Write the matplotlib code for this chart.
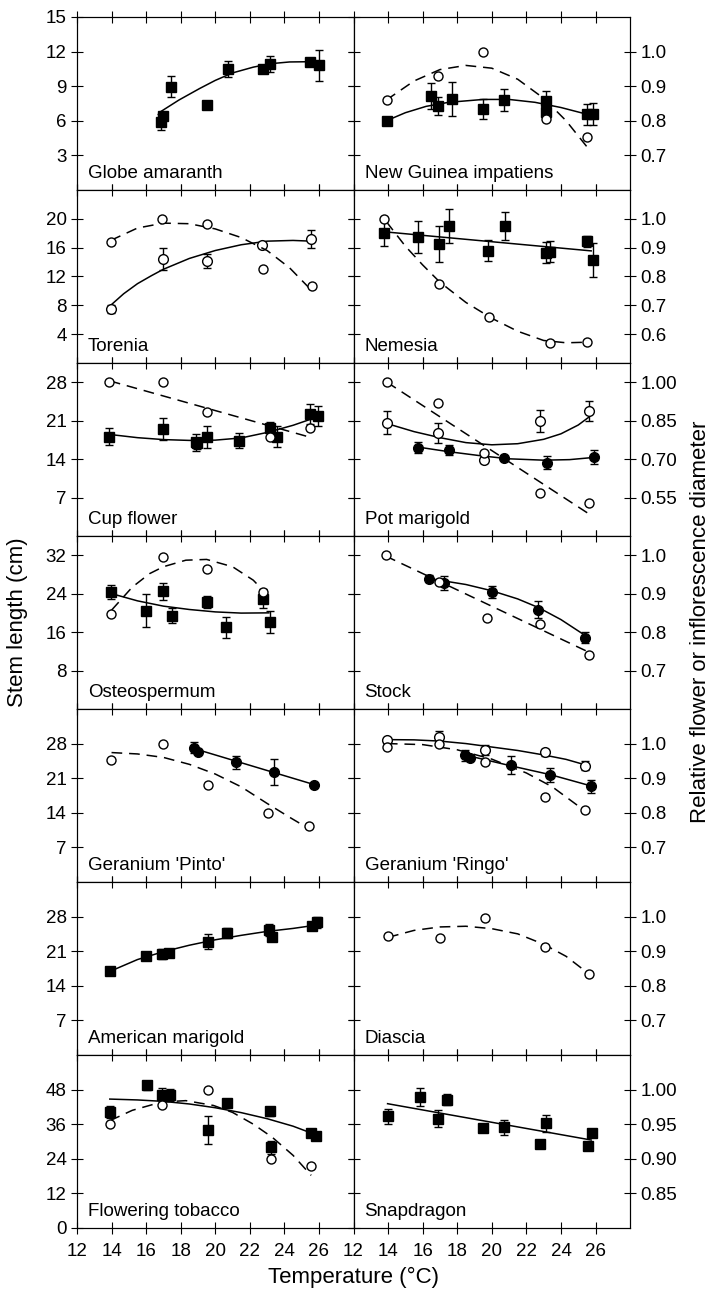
#!/usr/bin/env python3
# -*- coding: utf-8 -*-
import matplotlib
matplotlib.use("Agg")
import matplotlib.pyplot as plt

plt.rcParams["font.family"] = ["Liberation Sans", "DejaVu Sans"]

temp_ticks = [12, 14, 16, 18, 20, 22, 24, 26]

# ---- row 1 ----
globe_x = [16.84, 16.97, 17.45, 19.5, 20.75, 22.75, 23.18, 25.5, 26.03]
globe_y = [5.93, 6.45, 8.97, 7.38, 10.5, 10.48, 10.94, 11.1, 10.8]
globe_err = [0.7, 0.3, 0.9, 0.2, 0.7, 0.2, 0.7, 0.3, 1.35]
globe_fit_x = [16.85, 17.9, 19.1, 20.0, 21.0, 22.2, 23.2, 24.3, 25.4, 26.0]
globe_fit_y = [6.8, 7.8, 8.8, 9.5, 10.15, 10.65, 10.95, 11.1, 11.12, 11.08]

ngi_x = [13.93, 16.49, 16.89, 17.68, 19.5, 20.69, 23.14, 23.16, 25.49, 25.85]
ngi_y = [5.99, 8.16, 7.29, 7.9, 7.03, 7.81, 7.75, 6.74, 6.57, 6.57]
ngi_err = [0.3, 1.1, 0.8, 1.45, 0.85, 0.95, 0.85, 0.3, 0.9, 0.95]
ngi_fit_x = [13.9, 15.0, 16.2, 17.5, 19.5, 21.0, 22.5, 24.0, 25.8]
ngi_fit_y = [6.0, 6.7, 7.25, 7.6, 7.85, 7.85, 7.6, 7.15, 6.45]
ngi_dia_x = [13.93, 16.89, 19.5, 23.16, 25.49]
ngi_dia_y = [0.859, 0.93, 1.0, 0.806, 0.752]
ngi_dfit_x = [13.9, 15.5, 17.0, 18.5, 20.0, 21.5, 23.0, 24.3, 25.5]
ngi_dfit_y = [0.86, 0.915, 0.948, 0.96, 0.952, 0.92, 0.865, 0.8, 0.725]

# ---- row 2 ----
tor_x = [13.95, 16.97, 19.5, 22.73, 25.55]
tor_y = [7.47, 14.42, 14.15, 16.3, 17.2]
tor_err = [0.6, 1.5, 1.0, 0.3, 1.25]
tor_fit_x = [13.95, 14.7, 15.5, 16.3, 17.0, 18.5, 20.0, 21.5, 23.0, 24.5, 25.55]
tor_fit_y = [8.0, 9.6, 11.0, 12.1, 13.0, 14.5, 15.6, 16.4, 16.9, 17.0, 16.9]
tor_dia_x = [13.95, 16.93, 19.5, 22.75, 25.58]
tor_dia_y = [0.919, 1.0, 0.983, 0.825, 0.767]
tor_dfit_x = [13.95, 15.5, 17.0, 18.5, 20.0, 21.5, 23.0, 24.3, 25.6]
tor_dfit_y = [0.925, 0.968, 0.985, 0.983, 0.965, 0.935, 0.89, 0.83, 0.75]

nem_x = [13.77, 15.72, 16.93, 17.51, 19.78, 20.79, 23.14, 23.39, 25.51, 25.83]
nem_y = [17.97, 17.5, 16.45, 18.99, 15.58, 19.0, 15.3, 15.44, 16.87, 14.29]
nem_err = [1.8, 2.2, 2.5, 2.4, 1.45, 2.0, 1.5, 1.5, 0.8, 2.3]
nem_fit_x = [13.77, 25.75]
nem_fit_y = [18.2, 15.55]
nem_dia_x = [13.77, 16.93, 19.82, 23.39, 25.49]
nem_dia_y = [1.0, 0.773, 0.661, 0.569, 0.572]
nem_dfit_x = [13.9, 15.0, 16.0, 17.0, 18.5, 20.0, 21.5, 23.0, 24.3, 25.5]
nem_dfit_y = [0.99, 0.905, 0.84, 0.78, 0.71, 0.655, 0.61, 0.578, 0.57, 0.572]

# ---- row 3 ----
cup_x = [13.85, 16.97, 18.86, 18.94, 19.5, 21.36, 23.14, 23.56, 25.5, 25.93]
cup_y = [18.08, 19.42, 17.04, 16.86, 17.96, 17.35, 19.6, 18.08, 22.16, 21.85]
cup_err = [1.6, 2.0, 1.5, 1.0, 2.0, 1.4, 1.2, 1.9, 1.8, 1.9]
cup_fit_x = [13.85, 15.5, 17.0, 18.5, 20.0, 21.5, 23.0, 24.5, 25.93]
cup_fit_y = [18.5, 17.9, 17.55, 17.4, 17.45, 17.85, 18.85, 20.15, 21.7]
cup_dia_x = [13.85, 16.97, 19.5, 23.14, 25.5]
cup_dia_y = [1.0, 1.0, 0.883, 0.785, 0.823]
cup_dfit_x = [13.9, 25.5]
cup_dfit_y = [1.005, 0.785]

potA_x = [13.93, 16.86, 19.53, 22.77, 25.6]
potA_y = [20.64, 18.81, 13.8, 21.0, 22.77]
potA_err = [2.1, 1.8, 0.5, 2.0, 1.8]
potA_fit_x = [13.9, 15.5, 17.0, 18.5, 20.0, 21.5, 23.0, 24.0, 25.0, 25.6]
potA_fit_y = [20.5, 19.0, 17.9, 17.0, 16.6, 16.8, 17.6, 18.6, 20.2, 21.6]
potB_x = [15.72, 17.55, 20.69, 23.18, 25.93]
potB_y = [16.07, 15.64, 14.12, 13.33, 14.43]
potB_err = [1.0, 0.9, 0.3, 1.2, 1.3]
potB_fit_x = [15.7, 17.5, 19.5, 21.0, 23.0, 24.5, 25.9]
potB_fit_y = [16.2, 15.35, 14.55, 14.05, 13.8, 13.9, 14.3]
pot_dia_x = [13.93, 16.86, 19.53, 22.77, 25.6]
pot_dia_y = [1.0, 0.917, 0.722, 0.568, 0.529]
pot_dfit_x = [13.93, 25.6]
pot_dfit_y = [1.0, 0.487]

# ---- row 4 ----
ost_x = [13.98, 16.0, 16.97, 17.47, 19.51, 20.61, 22.75, 23.14]
ost_y = [24.38, 20.46, 24.45, 19.41, 22.28, 16.97, 22.98, 18.15]
ost_err = [1.5, 3.5, 1.7, 1.5, 1.3, 2.1, 1.9, 2.3]
ost_fit_x = [14.0, 15.5, 17.0, 18.5, 20.0, 21.5, 23.1]
ost_fit_y = [24.0, 22.5, 21.4, 20.7, 20.2, 19.95, 20.0]
ost_dia_x = [13.98, 16.97, 19.51, 22.75]
ost_dia_y = [0.848, 0.994, 0.965, 0.903]
ost_dfit_x = [14.0, 15.2, 16.2, 17.0, 18.3, 19.5, 21.0, 22.2, 22.8]
ost_dfit_y = [0.857, 0.917, 0.952, 0.97, 0.987, 0.989, 0.97, 0.935, 0.907]

stock_x = [16.39, 17.26, 20.0, 22.67, 25.37]
stock_y = [27.1, 26.27, 24.3, 20.67, 14.87]
stock_err = [0.7, 1.5, 1.3, 1.8, 1.1]
stock_fit_x = [16.4, 17.3, 18.5, 20.0, 21.5, 22.7, 24.0, 25.4]
stock_fit_y = [27.0, 26.6, 25.9, 24.6, 22.9, 21.1, 18.6, 15.3]
stock_dia_x = [13.85, 16.93, 19.75, 22.79, 25.6]
stock_dia_y = [1.0, 0.931, 0.837, 0.82, 0.74]
stock_dfit_x = [13.85, 25.6]
stock_dfit_y = [0.998, 0.748]

# ---- row 5 ----
pinto_x = [18.76, 18.99, 21.21, 23.41, 25.72]
pinto_y = [27.2, 26.33, 24.2, 22.2, 19.67]
pinto_err = [1.2, 0.5, 1.3, 2.6, 0.4]
pinto_fit_x = [18.76, 25.72]
pinto_fit_y = [27.0, 19.7]
pinto_dia_x = [13.98, 16.97, 19.59, 23.06, 25.45]
pinto_dia_y = [0.952, 1.0, 0.879, 0.8, 0.762]
pinto_dfit_x = [14.0, 15.5, 17.0, 18.5, 20.0, 21.5, 23.0, 24.3, 25.55]
pinto_dfit_y = [0.974, 0.97, 0.96, 0.94, 0.912, 0.875, 0.827, 0.787, 0.75]

ringoA_x = [13.93, 16.93, 19.59, 23.06, 25.41]
ringoA_y = [28.8, 29.33, 26.67, 26.2, 23.53]
ringoA_err = [0.4, 1.3, 1.0, 0.8, 0.9]
ringoA_fit_x = [13.93, 15.5, 17.0, 18.5, 20.0, 21.5, 23.0, 24.3, 25.4]
ringoA_fit_y = [28.8, 28.75, 28.5, 28.0, 27.3, 26.6, 25.7, 24.8, 23.7]
ringoB_x = [18.44, 18.75, 21.09, 23.39, 25.72]
ringoB_y = [25.67, 25.0, 23.6, 21.67, 19.33]
ringoB_err = [1.1, 0.4, 1.8, 1.4, 1.3]
ringoB_fit_x = [18.44, 21.1, 23.4, 25.72]
ringoB_fit_y = [25.7, 23.5, 21.7, 19.45]
ringo_dia_x = [13.93, 16.93, 19.59, 23.06, 25.41]
ringo_dia_y = [0.99, 0.998, 0.948, 0.845, 0.807]
ringo_dfit_x = [13.93, 16.0, 18.0, 20.0, 22.0, 23.5, 25.4]
ringo_dfit_y = [1.0, 0.997, 0.982, 0.955, 0.915, 0.875, 0.805]

# ---- row 6 ----
amer_x = [13.9, 16.0, 16.9, 17.3, 19.6, 20.7, 23.1, 23.3, 25.6, 25.9]
amer_y = [17.0, 20.0, 20.4, 20.6, 22.9, 24.7, 25.3, 23.9, 26.0, 26.8]
amer_err = [0.3, 0.3, 1.0, 0.8, 1.5, 1.0, 1.2, 0.8, 0.8, 1.2]
amer_fit_x = [13.9, 15.5, 17.0, 18.5, 20.0, 21.5, 23.0, 24.5, 25.9]
amer_fit_y = [16.9, 19.3, 20.9, 22.2, 23.3, 24.2, 25.0, 25.6, 26.3]

dia_x = [14.0, 17.0, 19.6, 23.1, 25.6]
dia_y = [0.943, 0.937, 0.995, 0.912, 0.835]
dia_fit_x = [14.0, 15.5, 17.0, 18.5, 20.0, 21.5, 23.0, 24.3, 25.6]
dia_fit_y = [0.94, 0.96, 0.97, 0.972, 0.965, 0.95, 0.92, 0.885, 0.835]

# ---- row 7 ----
tob_x = [13.89, 16.05, 16.91, 17.39, 19.57, 20.69, 23.18, 23.23, 25.55, 25.83]
tob_y = [40.27, 49.5, 46.04, 46.04, 33.93, 43.4, 40.5, 27.93, 33.0, 31.85]
tob_err = [2.2, 1.5, 2.6, 2.0, 4.9, 1.5, 1.5, 2.3, 1.2, 1.5]
tob_fit_x = [13.9, 15.5, 17.0, 18.5, 20.0, 21.5, 23.0, 24.5, 25.83]
tob_fit_y = [44.7, 44.4, 43.9, 43.0, 41.7, 40.0, 37.9, 35.3, 32.3]
tob_dia_x = [13.89, 16.91, 19.57, 23.23, 25.55]
tob_dia_y = [0.95, 0.978, 1.0, 0.899, 0.89]
tob_dfit_x = [13.9, 15.2, 16.9, 18.3, 19.9, 21.0, 22.2, 23.3, 24.5, 25.55]
tob_dfit_y = [0.955, 0.97, 0.982, 0.984, 0.977, 0.967, 0.95, 0.931, 0.905, 0.876]

snap_x = [13.97, 15.85, 16.89, 17.4, 19.51, 20.73, 22.77, 23.16, 25.56, 25.81]
snap_y = [38.77, 45.46, 37.85, 44.54, 34.5, 34.85, 29.1, 36.24, 28.4, 32.8]
snap_err = [2.6, 3.1, 3.0, 2.0, 1.0, 2.6, 1.0, 3.0, 0.8, 1.0]
snap_fit_x = [13.97, 25.75]
snap_fit_y = [43.1, 30.5]

# row scales: left (stem length) and right (relative diameter)
row_left_lim = [(0, 15), (0, 24), (0, 31.5), (0, 36), (0, 35), (0, 35), (0, 60)]
row_left_ticks = [[3, 6, 9, 12, 15], [4, 8, 12, 16, 20], [7, 14, 21, 28],
                  [8, 16, 24, 32], [7, 14, 21, 28], [7, 14, 21, 28], [0, 12, 24, 36, 48]]
row_right_lim = [(0.6, 1.1), (0.5, 1.1), (0.4, 1.075), (0.6, 1.05), (0.6, 1.1), (0.6, 1.1), (0.8, 1.05)]
row_right_ticks = [["0.7", "0.8", "0.9", "1.0"], ["0.6", "0.7", "0.8", "0.9", "1.0"],
                   ["0.55", "0.70", "0.85", "1.00"], ["0.7", "0.8", "0.9", "1.0"],
                   ["0.7", "0.8", "0.9", "1.0"], ["0.7", "0.8", "0.9", "1.0"],
                   ["0.85", "0.90", "0.95", "1.00"]]

# (name, stem series [(marker, x, y, err, fit_x, fit_y)], diameter series [(x, y, fit_x, fit_y)])
panels = [
    ("Globe amaranth", [("s", globe_x, globe_y, globe_err, globe_fit_x, globe_fit_y)], []),
    ("New Guinea impatiens", [("s", ngi_x, ngi_y, ngi_err, ngi_fit_x, ngi_fit_y)],
     [(ngi_dia_x, ngi_dia_y, ngi_dfit_x, ngi_dfit_y)]),
    ("Torenia", [("o_open", tor_x, tor_y, tor_err, tor_fit_x, tor_fit_y)],
     [(tor_dia_x, tor_dia_y, tor_dfit_x, tor_dfit_y)]),
    ("Nemesia", [("s", nem_x, nem_y, nem_err, nem_fit_x, nem_fit_y)],
     [(nem_dia_x, nem_dia_y, nem_dfit_x, nem_dfit_y)]),
    ("Cup flower", [("s", cup_x, cup_y, cup_err, cup_fit_x, cup_fit_y)],
     [(cup_dia_x, cup_dia_y, cup_dfit_x, cup_dfit_y)]),
    ("Pot marigold", [("o_open", potA_x, potA_y, potA_err, potA_fit_x, potA_fit_y),
                      ("o", potB_x, potB_y, potB_err, potB_fit_x, potB_fit_y)],
     [(pot_dia_x, pot_dia_y, pot_dfit_x, pot_dfit_y)]),
    ("Osteospermum", [("s", ost_x, ost_y, ost_err, ost_fit_x, ost_fit_y)],
     [(ost_dia_x, ost_dia_y, ost_dfit_x, ost_dfit_y)]),
    ("Stock", [("o", stock_x, stock_y, stock_err, stock_fit_x, stock_fit_y)],
     [(stock_dia_x, stock_dia_y, stock_dfit_x, stock_dfit_y)]),
    ("Geranium 'Pinto'", [("o", pinto_x, pinto_y, pinto_err, pinto_fit_x, pinto_fit_y)],
     [(pinto_dia_x, pinto_dia_y, pinto_dfit_x, pinto_dfit_y)]),
    ("Geranium 'Ringo'", [("o_open", ringoA_x, ringoA_y, ringoA_err, ringoA_fit_x, ringoA_fit_y),
                          ("o", ringoB_x, ringoB_y, ringoB_err, ringoB_fit_x, ringoB_fit_y)],
     [(ringo_dia_x, ringo_dia_y, ringo_dfit_x, ringo_dfit_y)]),
    ("American marigold", [("s", amer_x, amer_y, amer_err, amer_fit_x, amer_fit_y)], []),
    ("Diascia", [], [(dia_x, dia_y, dia_fit_x, dia_fit_y)]),
    ("Flowering tobacco", [("s", tob_x, tob_y, tob_err, tob_fit_x, tob_fit_y)],
     [(tob_dia_x, tob_dia_y, tob_dfit_x, tob_dfit_y)]),
    ("Snapdragon", [("s", snap_x, snap_y, snap_err, snap_fit_x, snap_fit_y)], []),
]

FS = 13.5
TICK = dict(direction="inout", length=8, width=0.8, labelsize=FS)

fig = plt.figure(figsize=(7.16, 12.96), dpi=100)
gs = fig.add_gridspec(7, 2, left=0.1075, right=0.880, top=0.9869, bottom=0.0525,
                      hspace=0, wspace=0)

for i, (name, stems, dias) in enumerate(panels):
    row, col = divmod(i, 2)
    ax = fig.add_subplot(gs[row, col])
    ax2 = ax.twinx()

    for marker, x, y, err, fx, fy in stems:
        ax.plot(fx, fy, color="black", lw=1.1, zorder=2, solid_joinstyle="round")
        face = "white" if marker == "o_open" else "black"
        m = "s" if marker == "s" else "o"
        ax.errorbar(x, y, yerr=err, fmt=m, ms=6.5 if m == "s" else 7, mfc=face,
                    mec="black", mew=1, ecolor="black", elinewidth=1,
                    capsize=3, capthick=1, zorder=3)
    for x, y, fx, fy in dias:
        ax2.plot(fx, fy, color="black", lw=1.1, ls=(0, (7, 4.5)), zorder=2)
        ax2.plot(x, y, "o", ms=6.5, mfc="white", mec="black", mew=1, zorder=3)

    ax.set_xlim(12, 28)
    ax.set_xticks(temp_ticks)
    ax.set_ylim(*row_left_lim[row])
    ax.set_yticks(row_left_ticks[row])
    ax2.set_ylim(*row_right_lim[row])
    ax2.set_yticks([float(t) for t in row_right_ticks[row]])
    ax2.set_yticklabels(row_right_ticks[row])

    ax.tick_params(axis="x", top=True, bottom=True, **TICK)
    ax.tick_params(axis="y", **TICK)
    ax2.tick_params(axis="y", **TICK)
    if row < 6:
        ax.tick_params(axis="x", labelbottom=False)
    else:
        ax.tick_params(axis="x", pad=7)
    if col == 0:
        ax2.tick_params(axis="y", labelright=False)
    else:
        ax.tick_params(axis="y", labelleft=False)

    for a in (ax, ax2):
        for sp in a.spines.values():
            sp.set_linewidth(0.8)

    ax.text(0.04, 0.07, name, transform=ax.transAxes, fontsize=FS,
            ha="left", va="baseline", zorder=5)

fig.text(0.024, 0.52, "Stem length (cm)", rotation=90, fontsize=16,
         ha="center", va="center")
fig.text(0.978, 0.52, "Relative flower or inflorescence diameter", rotation=90,
         fontsize=16, ha="center", va="center")
fig.text(0.494, 0.014, "Temperature (\u00b0C)", fontsize=16, ha="center", va="center")

fig.savefig("out.png", dpi=100)
